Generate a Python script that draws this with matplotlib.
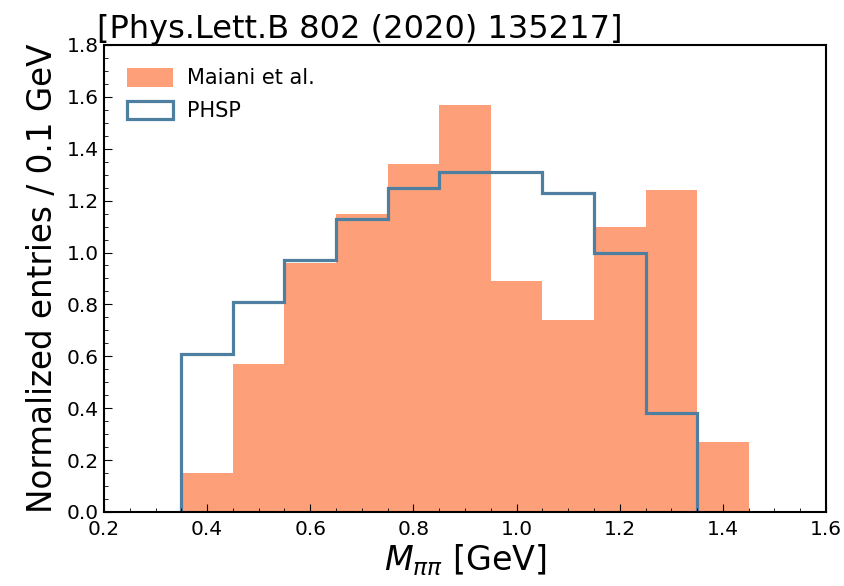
import numpy as np
import matplotlib
matplotlib.use("Agg")
import matplotlib.pyplot as plt
from matplotlib.ticker import MultipleLocator
from matplotlib.patches import Patch

# bin edges (GeV)
edges_maiani = [0.35, 0.45, 0.55, 0.65, 0.75, 0.85, 0.95, 1.05, 1.15, 1.25, 1.35, 1.45]
edges_phsp = [0.35, 0.45, 0.55, 0.65, 0.75, 0.85, 0.95, 1.05, 1.15, 1.25, 1.35]

maiani = [0.15, 0.57, 0.96, 1.15, 1.34, 1.57, 0.89, 0.74, 1.10, 1.24, 0.27]
phsp = [0.61, 0.81, 0.97, 1.13, 1.25, 1.31, 1.31, 1.23, 1.00, 0.38]

fill_col = '#fda07a'
line_col = '#4f7fa0'

fig = plt.figure(figsize=(8.44, 5.86), dpi=100)
ax = fig.add_axes([0.1232, 0.1263, 0.8555, 0.797])

ax.stairs(maiani, edges_maiani, fill=True, color=fill_col)
ax.stairs(phsp, edges_phsp, color=line_col, linewidth=2.3)

ax.set_xlim(0.2, 1.6)
ax.set_ylim(0, 1.8)
ax.xaxis.set_major_locator(MultipleLocator(0.2))
ax.xaxis.set_minor_locator(MultipleLocator(0.05))
ax.yaxis.set_major_locator(MultipleLocator(0.2))
ax.yaxis.set_minor_locator(MultipleLocator(0.05))
ax.tick_params(which='both', direction='in', labelsize=14.5)
ax.tick_params(which='major', length=6)
ax.tick_params(which='minor', length=3)
ax.tick_params(axis='x', pad=6)
for s in ax.spines.values():
    s.set_linewidth(1.5)

ax.set_xlabel(r'$M_{\pi\pi}$ [GeV]', fontsize=24, labelpad=2)
ax.set_ylabel('Normalized entries / 0.1 GeV', fontsize=23.5, labelpad=6)
ax.set_title('[Phys.Lett.B 802 (2020) 135217]', fontsize=23, loc='left', pad=3, x=-0.01)

handles = [Patch(facecolor=fill_col, edgecolor='none', label='Maiani et al.'),
           Patch(facecolor='white', edgecolor=line_col, linewidth=2.3, label='PHSP')]
ax.legend(handles=handles, loc='upper left', frameon=False, fontsize=15,
          handlelength=2.2, handleheight=1.0, handletextpad=0.7,
          borderaxespad=0.7, labelspacing=0.6)

fig.savefig('out.png', dpi=100)
